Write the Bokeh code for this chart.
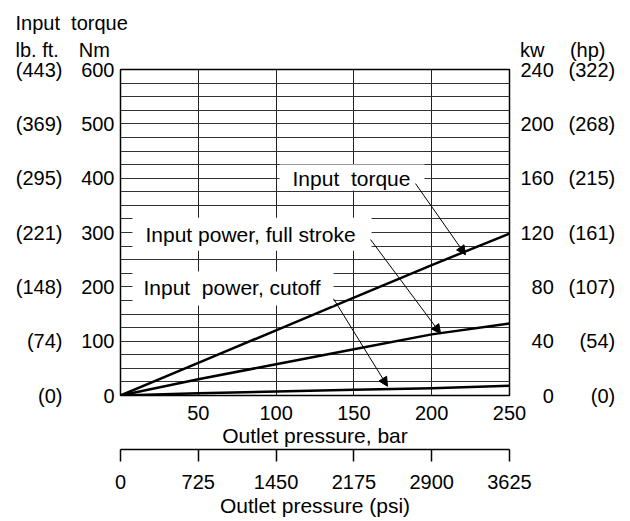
from bokeh.plotting import figure
from bokeh.models import (Range1d, LinearAxis, FixedTicker, Label, Arrow,
                          NormalHead, Grid)
from bokeh.embed import file_html
from bokeh.resources import INLINE

# ---------------- data ----------------
pressure_bar = [0, 50, 100, 150, 200, 250]
input_torque_nm = [0, 60, 120, 180, 240, 298]
power_full_kw = [0, 12, 23, 34, 45, 53]
power_cutoff_kw = [0, 1.7, 3.0, 4.2, 5.4, 7.2]

nm_ticks = [0, 100, 200, 300, 400, 500, 600]
lbft_labels = ["(0)", "(74)", "(148)", "(221)", "(295)", "(369)", "(443)"]
kw_ticks = [0, 40, 80, 120, 160, 200, 240]
hp_labels = ["(0)", "(54)", "(107)", "(161)", "(215)", "(268)", "(322)"]
bar_ticks = [50, 100, 150, 200, 250]
psi_ticks = [0, 725, 1450, 2175, 2900, 3625]

FONT = "Liberation Sans"
FS = "20px"
FS2 = "21px"
FIG = "\u2007"   # figure space (digit width) used to right-align labels on right axes
EM = "\u2003"
EN = "\u2002"
NB = "\u00a0"

p = figure(frame_width=389, frame_height=326,
           x_range=Range1d(0, 250), y_range=Range1d(0, 600),
           x_axis_type=None, y_axis_type=None,
           output_backend="svg", toolbar_location=None,
           min_border_left=120, min_border_right=113, min_border_top=68, min_border_bottom=10,
           background_fill_color="white", border_fill_color="white")
p.outline_line_color = "black"
p.outline_line_width = 1.5
p.extra_y_ranges = {"kw": Range1d(0, 240)}
p.extra_x_ranges = {"psi": Range1d(0, 3625)}

# ---------------- header rows (two-line title above the frame) ----------------
header_row1 = "Input" + NB + " torque"
header_row2 = "lb. ft." + EM + "Nm" + EM * 20 + EN + "kw" + EM + NB + "(hp)"
p.title.text = header_row1 + "\n" + header_row2
p.title.align = "left"
p.title.offset = -105
p.title.standoff = 17
p.title.text_line_height = 1.25
p.title.text_font = FONT
p.title.text_font_size = FS
p.title.text_font_style = "normal"
p.title.text_color = "black"

# grid
p.add_layout(Grid(dimension=0, ticker=FixedTicker(ticks=bar_ticks[:-1]),
                  grid_line_color="#222222", grid_line_width=1))
p.add_layout(Grid(dimension=1, ticker=FixedTicker(ticks=list(range(25, 600, 25))),
                  grid_line_color="#333333", grid_line_width=1))

def style_axis(ax, line=False):
    ax.major_tick_in = 0
    ax.minor_tick_in = 0
    ax.minor_tick_out = 0
    if not line:
        ax.major_tick_out = 0
        ax.axis_line_color = None
    ax.major_label_text_font = FONT
    ax.major_label_text_font_size = FS
    ax.major_label_text_color = "black"
    ax.axis_label_text_font = FONT
    ax.axis_label_text_font_size = FS2
    ax.axis_label_text_font_style = "normal"
    ax.axis_label_text_color = "black"

def pad_right(texts):
    w = max(len(t) for t in texts)
    return [FIG * (w - len(t)) + t for t in texts]

# left: Nm (inner) and lb.ft (outer)
ax_nm = LinearAxis(ticker=FixedTicker(ticks=nm_ticks), major_label_standoff=6)
style_axis(ax_nm)
p.add_layout(ax_nm, "left")

ax_lb = LinearAxis(ticker=FixedTicker(ticks=nm_ticks), major_label_standoff=16,
                   major_label_overrides={t: s for t, s in zip(nm_ticks, lbft_labels)})
style_axis(ax_lb)
p.add_layout(ax_lb, "left")

# right: kW (inner) and hp (outer)
kw_text = pad_right([str(v) for v in kw_ticks])
hp_text = pad_right(hp_labels)
ax_kw = LinearAxis(y_range_name="kw", ticker=FixedTicker(ticks=kw_ticks), major_label_standoff=11,
                   major_label_overrides={t: s for t, s in zip(kw_ticks, kw_text)})
style_axis(ax_kw)
p.add_layout(ax_kw, "right")

ax_hp = LinearAxis(y_range_name="kw", ticker=FixedTicker(ticks=kw_ticks), major_label_standoff=12,
                   major_label_overrides={t: s for t, s in zip(kw_ticks, hp_text)})
style_axis(ax_hp)
p.add_layout(ax_hp, "right")

# bottom: bar and psi
ax_bar = LinearAxis(ticker=FixedTicker(ticks=bar_ticks), major_label_standoff=10,
                    axis_label="Outlet pressure, bar", axis_label_standoff=1)
style_axis(ax_bar)
p.add_layout(ax_bar, "below")

ax_psi = LinearAxis(x_range_name="psi", ticker=FixedTicker(ticks=psi_ticks),
                    major_label_standoff=13,
                    axis_label="Outlet pressure (psi)", axis_label_standoff=2)
style_axis(ax_psi, line=True)
ax_psi.axis_line_color = "black"
ax_psi.axis_line_width = 1.5
ax_psi.major_tick_out = 12
ax_psi.major_tick_line_color = "black"
ax_psi.major_tick_line_width = 1.5
p.add_layout(ax_psi, "below")

# data lines
p.line(pressure_bar, input_torque_nm, line_width=2.5, color="black", line_join="round")
p.line(pressure_bar, power_full_kw, y_range_name="kw", line_width=2.5, color="black", line_join="round")
p.line(pressure_bar, power_cutoff_kw, y_range_name="kw", line_width=2.5, color="black", line_join="round")

# in-plot labels with white boxes (anchor = left edge of the white box)
def boxed(x, y, text, pad):
    p.add_layout(Label(x=x, y=y, text=text, text_align="left", text_baseline="middle",
                       text_font=FONT, text_font_size=FS2, text_color="black",
                       background_fill_color="white", padding=pad))

boxed(102.2, 401, "Input" + NB + " torque", dict(left=13, right=14, top=2, bottom=1))
boxed(7.7, 297, "Input power, full stroke", dict(left=13, right=16, top=5, bottom=5))
boxed(7.7, 197, "Input" + NB + " power, cutoff", dict(left=11, right=13, top=5, bottom=6))

# arrows
def arrow(x0, y0, x1, y1):
    p.add_layout(Arrow(x_start=x0, y_start=y0, x_end=x1, y_end=y1, line_width=1, line_color="black",
                       end=NormalHead(size=9, fill_color="black", line_color="black", line_width=1)))

arrow(189.6, 390, 221.7, 259)
arrow(160.7, 287, 205.7, 114)
arrow(136.9, 178, 171.6, 17)

open("out.html", "w").write(file_html(p, INLINE))
